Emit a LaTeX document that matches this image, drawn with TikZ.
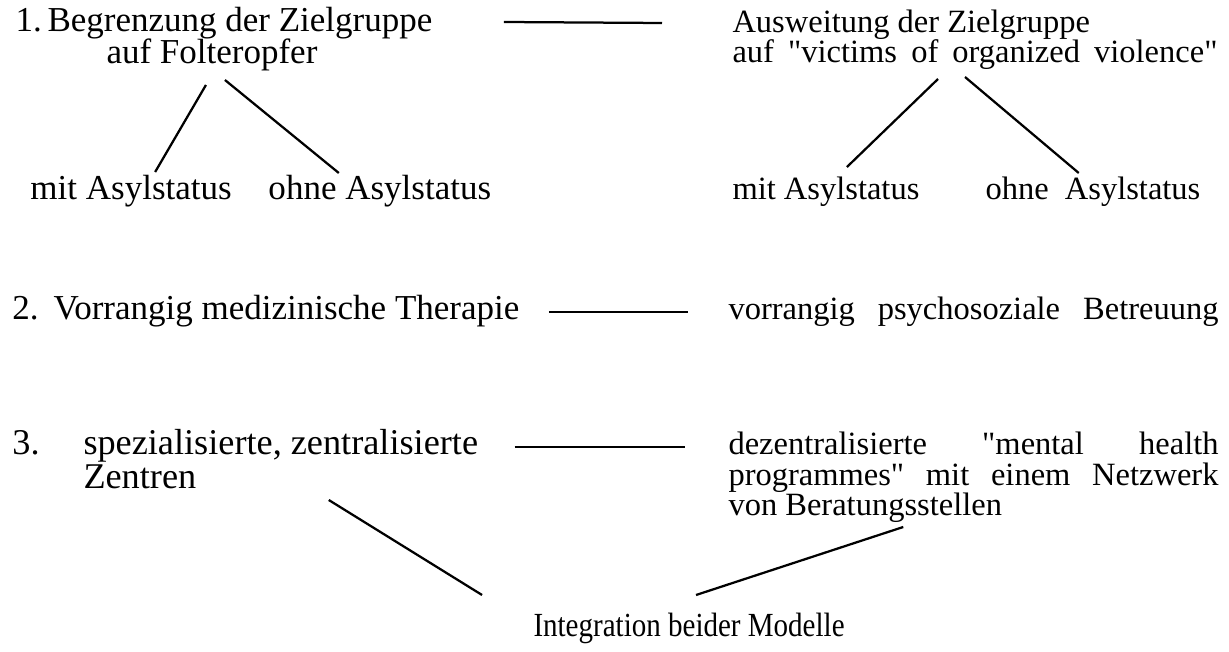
\documentclass[tikz,border=0pt]{standalone}
\usepackage{fontspec}
\setmainfont{Liberation Serif}
\usetikzlibrary{positioning,calc}

\begin{document}
\begin{tikzpicture}[x=0.4pt,y=-0.4pt,
    lefttxt/.style={anchor=base west,inner sep=0pt,font=\fontsize{14}{17}\selectfont},
    leftbig/.style={anchor=base west,inner sep=0pt,font=\fontsize{14.5}{17}\selectfont},
    righttxt/.style={anchor=base west,inner sep=0pt,font=\fontsize{13}{15}\selectfont},
    bottomtxt/.style={anchor=base west,inner sep=0pt,font=\fontsize{13.5}{15}\selectfont\addfontfeature{FakeStretch=0.86}},
    link/.style={line width=0.9pt}]
\useasboundingbox (0,0) rectangle (1229,652);
% 1. Zielgruppe
\node[lefttxt] (num1) at (15,32) {1.};
\node[lefttxt] (beg) at (47,32) {Begrenzung der Zielgruppe};
\node[lefttxt] (fol) at (106,64) {auf Folteropfer};
\node[lefttxt] (mitl) at (30,200) {mit Asylstatus};
\node[lefttxt] (ohnel) at (268,200) {ohne Asylstatus};
\node[righttxt] (aus) at (732,33) {Ausweitung der Zielgruppe};
\node[righttxt] (vic) at (732,63) {\makebox[194pt][s]{auf \textquotedbl victims of organized violence\textquotedbl}};
\node[righttxt] (mitr) at (732,200) {mit Asylstatus};
\node[righttxt] (ohner) at (985,200) {\makebox[93pt][s]{ohne\enspace Asylstatus}};
\draw[link] ($(beg.base east)+(71,-10)$) -- ($(aus.base west)+(-70,-10)$);
\draw[link] ($(fol.base)+(-6,21)$) -- ($(mitl.base)+(24,-28)$);
\draw[link] ($(fol.base)+(13,16)$) -- ($(ohnel.base)+(-41,-27)$);
\draw[link] ($(vic.base)+(-37,16)$) -- ($(mitr.base)+(21,-33)$);
\draw[link] ($(vic.base)+(-10,14)$) -- ($(ohner.base)+(-23,-27)$);
% 2. Therapie
\node[lefttxt] (num2) at (12,320) {2.};
\node[lefttxt] (med) at (53,320) {Vorrangig medizinische Therapie};
\node[righttxt] (psy) at (728,320) {\makebox[196pt][s]{vorrangig psychosoziale Betreuung}};
\draw[link] ($(med.base east)+(29,-8)$) -- ($(psy.base west)+(-40,-8)$);
% 3. Zentren
\node[leftbig] (num3) at (12,455) {3.};
\node[leftbig] (spez) at (83,455) {spezialisierte, zentralisierte};
\node[leftbig] (zen) at (83,489) {Zentren};
\node[righttxt] (dez) at (728,455) {\makebox[196pt][s]{dezentralisierte \textquotedbl mental health}};
\node[righttxt] (prog) at (728,486) {\makebox[196pt][s]{programmes\textquotedbl{} mit einem Netzwerk}};
\node[righttxt] (von) at (728,516) {von Beratungsstellen};
\draw[link] ($(spez.base east)+(36,-8)$) -- ($(dez.base west)+(-43,-8)$);
\node[bottomtxt] (integ) at (533,637) {Integration beider Modelle};
\draw[link] ($(spez.base)+(48,45)$) -- ($(integ.base)+(-207,-42)$);
\draw[link] ($(von.base)+(38,11)$) -- ($(integ.base)+(7,-42)$);
\end{tikzpicture}
\end{document}
